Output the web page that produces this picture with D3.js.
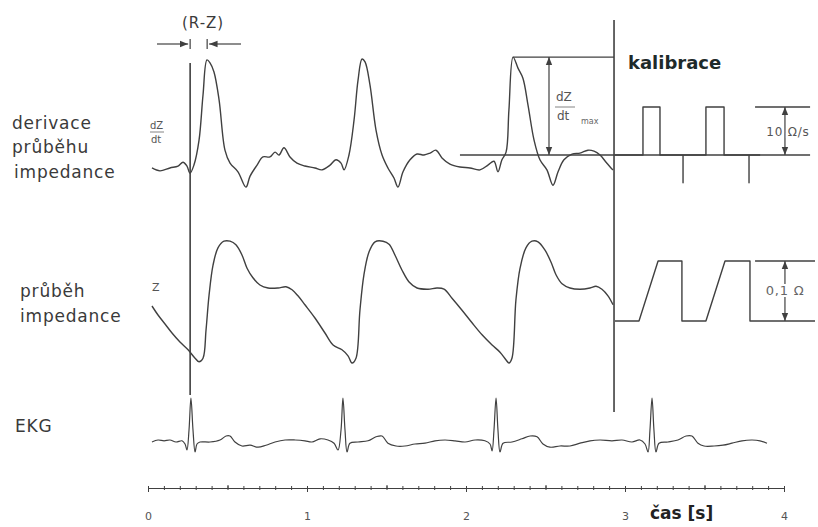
<!DOCTYPE html>
<html><head><meta charset="utf-8">
<script src="https://cdn.jsdelivr.net/npm/d3@7/dist/d3.min.js"></script>
<style>body{margin:0;background:#fff}svg{display:block}</style>
</head><body><svg id="c" width="818" height="527"></svg>
<script>
// ---- data (time in s, dZ/dt in Ω/s, Z in mΩ, EKG in mV) ----
const dzdt = [[0.025,-2.7],[0.075,-3.3],[0.138,-2.7],[0.189,-2.3],[0.220,-1.5],[0.245,-2.3],[0.264,-3.8],[0.289,-2.1],[0.321,3.1],[0.346,12.5],[0.371,19.8],[0.390,19.2],[0.415,17.3],[0.447,11.5],[0.484,1.0],[0.516,-1.7],[0.566,-3.5],[0.616,-6.7],[0.642,-4.4],[0.686,-2.1],[0.723,-0.4],[0.767,-0.4],[0.799,0.6],[0.824,0],[0.855,1.5],[0.893,-0.4],[0.937,-1.7],[0.987,-2.3],[1.050,-2.7],[1.094,-3.1],[1.145,-2.1],[1.182,-1.0],[1.214,-1.7],[1.233,-3.1],[1.264,0],[1.296,7.3],[1.321,15.6],[1.346,20.0],[1.365,19.4],[1.396,14.6],[1.434,5.2],[1.472,0],[1.509,-2.7],[1.547,-4.8],[1.572,-6.7],[1.604,-3.5],[1.648,-1.0],[1.692,0.2],[1.736,0],[1.774,0.4],[1.811,1.0],[1.849,-0.6],[1.899,-1.9],[1.962,-2.5],[2.025,-2.7],[2.088,-3.1],[2.138,-2.1],[2.176,-1.3],[2.201,-3.5],[2.226,-1.0],[2.252,0.6],[2.270,9.4],[2.296,20.4],[2.327,18.1],[2.358,16.0],[2.390,10.4],[2.428,3.1],[2.465,-1.0],[2.509,-3.1],[2.547,-6.3],[2.579,-3.5],[2.616,-1.0],[2.667,0.2],[2.717,0.4],[2.767,1.0],[2.805,0.8],[2.843,0],[2.881,-1.5],[2.912,-2.7],[2.925,-3.1]];
const zImp = [[0.025,25],[0.063,10],[0.107,-5],[0.151,-20],[0.201,-35],[0.252,-48],[0.296,-62],[0.321,-68],[0.346,-62],[0.365,-15],[0.384,43],[0.409,93],[0.440,122],[0.478,133],[0.516,133],[0.553,127],[0.591,110],[0.623,88],[0.660,72],[0.704,60],[0.755,55],[0.818,55],[0.868,57],[0.906,52],[0.943,42],[0.987,27],[1.050,5],[1.113,-20],[1.164,-40],[1.220,-48],[1.258,-58],[1.283,-70],[1.308,-62],[1.333,18],[1.358,77],[1.390,115],[1.428,132],[1.478,133],[1.516,128],[1.553,110],[1.597,85],[1.642,65],[1.692,55],[1.761,53],[1.818,55],[1.862,53],[1.912,38],[1.975,18],[2.038,-3],[2.101,-23],[2.164,-40],[2.214,-52],[2.252,-65],[2.270,-70],[2.289,-62],[2.314,35],[2.340,88],[2.377,122],[2.415,133],[2.453,132],[2.497,118],[2.535,98],[2.566,77],[2.604,62],[2.654,55],[2.717,53],[2.780,55],[2.818,58],[2.855,53],[2.893,42],[2.925,27]];
const ekg = [[0.025,0],[0.063,0.05],[0.101,0.03],[0.138,0.05],[0.176,0],[0.214,0.03],[0.233,-0.05],[0.245,-0.2],[0.258,0.3],[0.270,1.1],[0.283,0.3],[0.296,-0.25],[0.308,-0.05],[0.327,0],[0.390,0],[0.453,0.05],[0.491,0.15],[0.516,0.15],[0.547,0],[0.591,-0.1],[0.642,-0.08],[0.692,-0.13],[0.742,-0.08],[0.799,0],[0.862,0.05],[0.925,0.05],[0.987,0.03],[1.031,0],[1.082,0.08],[1.132,0.05],[1.170,-0.03],[1.195,-0.2],[1.214,0.3],[1.226,1.1],[1.239,0.3],[1.252,-0.25],[1.270,-0.03],[1.321,0],[1.384,0.03],[1.434,0.13],[1.472,0.15],[1.509,-0.03],[1.560,-0.1],[1.616,-0.1],[1.679,-0.05],[1.742,-0.03],[1.805,0.03],[1.868,0.05],[1.931,0.03],[1.994,0],[2.057,0.05],[2.119,0.03],[2.151,-0.05],[2.164,-0.22],[2.176,0.3],[2.189,1.1],[2.201,0.3],[2.214,-0.25],[2.233,-0.03],[2.289,0],[2.352,0.08],[2.403,0.15],[2.447,0.13],[2.484,-0.05],[2.528,-0.13],[2.591,-0.1],[2.654,-0.1],[2.717,-0.03],[2.780,0.03],[2.843,0.05],[2.918,0.03],[2.981,0.05],[3.044,0],[3.094,0.05],[3.126,-0.05],[3.145,-0.25],[3.157,0.3],[3.170,1.1],[3.182,0.3],[3.195,-0.25],[3.214,-0.03],[3.270,0],[3.333,0.05],[3.384,0.15],[3.421,0.15],[3.459,-0.03],[3.497,-0.1],[3.560,-0.1],[3.616,-0.08],[3.673,-0.03],[3.736,0.03],[3.799,0.05],[3.849,0.03],[3.893,-0.03]];
const calDer = [[2.937,0],[3.113,0],[3.113,10],[3.220,10],[3.220,0],[3.365,0],[3.365,-5.8],[3.365,0],[3.509,0],[3.509,10],[3.623,10],[3.623,0],[3.780,0],[3.780,-5.8],[3.780,0],[3.85,0]];
const calImp = [[2.937,0],[3.088,0],[3.208,100],[3.358,100],[3.358,0],[3.509,0],[3.629,100],[3.786,100],[3.786,0],[4.195,0]];
const majorTicks = [0,1,2,3,4];
const minorTicks = d3.range(0,40.5,1).map(d=>d/10);
const markerTimes = {rPeak:0.265, calStart:2.931, rzEnd:0.372, dzMax:2.522, calArrow:4.006};

// ---- scales ----
const svg = d3.select("#c");
const x = d3.scaleLinear().domain([0,4]).range([148,784]);
const yD = d3.scaleLinear().domain([0,10]).range([155,107]);
const yZ = d3.scaleLinear().domain([0,100]).range([321,261]);
const yE = d3.scaleLinear().domain([0,1]).range([442,402]);
const ink = "#404040";

const defs = svg.append("defs");
defs.append("marker").attr("id","ah").attr("viewBox","0 0 10 10").attr("refX",10).attr("refY",5)
  .attr("markerWidth",7).attr("markerHeight",7).attr("orient","auto-start-reverse")
  .append("path").attr("d","M0,1 L10,5 L0,9 z").attr("fill",ink);

function trace(data, ys, w, curve){
  const ln = d3.line().x(d=>x(d[0])).y(d=>ys(d[1])).curve(curve||d3.curveLinear);
  svg.append("path").datum(data).attr("d",ln).attr("fill","none")
    .attr("stroke",ink).attr("stroke-width",w||1.4).attr("stroke-linejoin","round");
}
function seg(x1,y1,x2,y2,w){
  return svg.append("line").attr("x1",x1).attr("y1",y1).attr("x2",x2).attr("y2",y2)
    .attr("stroke",ink).attr("stroke-width",w||1.3);
}

// reference lines
seg(x(1.962), yD(0), x(4.164), yD(0));
seg(x(2.296), yD(20.4), x(markerTimes.calStart), yD(20.4));
seg(x(3.818), yD(10), x(4.164), yD(10));
seg(x(3.818), yZ(100), x(4.195), yZ(100));

// traces
const smooth = d3.curveCatmullRom.alpha(0.5);
trace(dzdt, yD, 1.4, smooth);
trace(zImp, yZ, 1.4, smooth);
trace(ekg, yE, 1.2, smooth);
trace(calDer, yD);
trace(calImp, yZ);

// vertical marker lines
seg(x(markerTimes.rPeak), 63, x(markerTimes.rPeak), 395, 1.6);
seg(x(markerTimes.calStart), 20, x(markerTimes.calStart), 412, 1.6);

// (R-Z) dimension
seg(x(markerTimes.rPeak), 39, x(markerTimes.rPeak), 49, 1.2);
seg(x(markerTimes.rzEnd), 39, x(markerTimes.rzEnd), 49, 1.2);
seg(157, 44, x(markerTimes.rPeak)-2, 44, 1.2).attr("marker-end","url(#ah)");
seg(241, 44, x(markerTimes.rzEnd)+2, 44, 1.2).attr("marker-end","url(#ah)");

// double arrows
function darrow(t, v1, v2, ys){
  seg(x(t), ys(v1), x(t), ys(v2), 1.2).attr("marker-start","url(#ah)").attr("marker-end","url(#ah)");
}
darrow(markerTimes.dzMax, 20.4, 0, yD);
darrow(markerTimes.calArrow, 10, 0, yD);
darrow(markerTimes.calArrow, 100, 0, yZ);

// axis
const axG = svg.append("g").attr("transform","translate(0,488)");
axG.append("g").call(d3.axisBottom(x).tickValues(minorTicks).tickSize(2).tickSizeOuter(0).tickFormat(""));
axG.append("g").call(d3.axisTop(x).tickValues(minorTicks).tickSize(2).tickSizeOuter(0).tickFormat(""));
axG.append("g").call(d3.axisTop(x).tickValues([0.5,1.5,2.5,3.5]).tickSize(3).tickSizeOuter(0).tickFormat(""));
axG.append("g").call(d3.axisBottom(x).tickValues(majorTicks).tickSize(4).tickSizeOuter(0).tickPadding(20).tickFormat(d3.format("d")));
axG.selectAll("path.domain").attr("stroke",ink).attr("stroke-width",1.2);
axG.selectAll(".tick line").attr("stroke",ink);
axG.selectAll(".tick text").attr("font-family","DejaVu Sans").attr("font-size",11).attr("fill","#555");

// text
function txt(s, tx, ty, opt){
  opt = opt||{};
  return svg.append("text").attr("x",tx).attr("y",ty).text(s)
    .attr("font-family","DejaVu Sans").attr("font-size",opt.size||16)
    .attr("font-weight",opt.bold?"bold":"normal").attr("fill",opt.fill||"#3a3a3a")
    .attr("letter-spacing",opt.ls||0).attr("text-anchor",opt.anchor||"start");
}
txt("derivace",12,129,{size:17,ls:0.8});
txt("průběhu",12,153,{size:17,ls:0.8});
txt("impedance",14,178,{size:17,ls:0.8});
txt("průběh",20,297,{size:17,ls:0.8});
txt("impedance",20,322,{size:17,ls:0.8});
txt("EKG",15,432,{size:17,ls:0.8});
txt("(R-Z)",182,28,{size:15,ls:1});
txt("kalibrace",628,69,{size:18,bold:true,fill:"#1e2a2a"});
txt("čas [s]",650,519,{size:17,bold:true,fill:"#222"});
// dZ/dt small labels
txt("dZ",150,129,{size:10,fill:"#555"});
seg(150,132,164,132,0.8).attr("stroke","#666");
txt("dt",151,143,{size:10,fill:"#555"});
txt("Z",152,291,{size:11,fill:"#555"});
txt("dZ",556,101,{size:12,fill:"#555"});
seg(555,107,575,107,0.8).attr("stroke","#666");
txt("dt",557,120,{size:12,fill:"#555"});
txt("max",581,124,{size:8,fill:"#666"});
txt("10 Ω/s",788,136,{size:12,ls:0.8,fill:"#555",anchor:"middle"})
  .attr("stroke","#fff").attr("stroke-width",4).attr("paint-order","stroke");
txt("0,1 Ω",785,295,{size:13,ls:0.8,fill:"#666",anchor:"middle"})
  .attr("stroke","#fff").attr("stroke-width",4).attr("paint-order","stroke");
</script></body></html>
